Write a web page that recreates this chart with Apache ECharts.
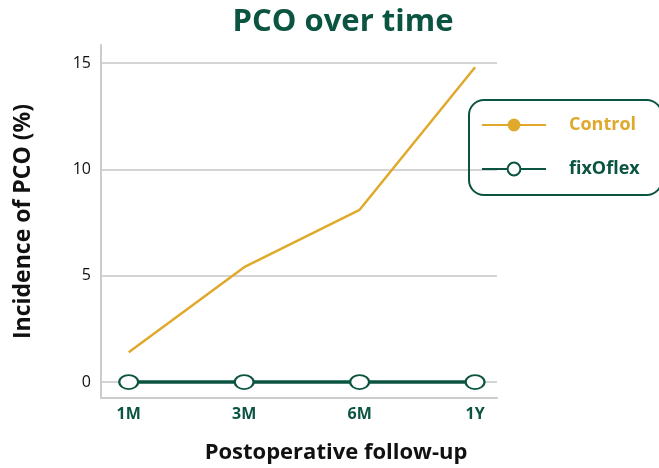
<!DOCTYPE html>
<html>
<head>
<meta charset="utf-8">
<script src="https://cdn.jsdelivr.net/npm/echarts@6/dist/echarts.min.js"></script>
<style>
  html, body { margin: 0; padding: 0; background: #fff; }
  #main { width: 659px; height: 468px; }
</style>
</head>
<body>
<div id="main"></div>
<script>
var categories = ['1M', '3M', '6M', '1Y'];
var controlData = [1.4, 5.4, 8.1, 14.8];
var fixoflexData = [0, 0, 0, 0];
var yTicks = [0, 5, 10, 15];

var green = '#0b5441';
var gold = '#e0a92b';
var font = 'Open Sans';

function pairs(arr) {
    return arr.map(function (v, i) { return [i, v]; });
}

var myChart = echarts.init(document.getElementById('main'));
var option = {
    title: {
        text: 'PCO over time',
        left: 338,
        textAlign: 'center',
        top: 2,
        textStyle: { color: green, fontSize: 31, fontWeight: 'bold', fontFamily: font }
    },
    legend: {
        orient: 'vertical',
        left: 469,
        top: 100,
        padding: [16, 22, 17, 12],
        itemGap: 26,
        itemWidth: 64,
        itemHeight: 16,
        borderColor: green,
        borderWidth: 2,
        borderRadius: 15,
        data: [
            { name: 'Control', textStyle: { color: gold } },
            { name: 'fixOflex', textStyle: { color: green } }
        ],
        textStyle: { fontSize: 18, fontWeight: 'bold', fontFamily: font, padding: [0, 0, 0, 18] }
    },
    grid: { left: 101, right: 162, top: 45, bottom: 70, outerBoundsMode: 'none' },
    xAxis: {
        type: 'value',
        min: -0.24,
        max: 3.19,
        name: 'Postoperative follow-up',
        nameLocation: 'middle',
        nameGap: 44,
        nameTextStyle: { color: '#111', fontSize: 22, fontWeight: 'bold', fontFamily: font, padding: [0, 0, 0, 74] },
        axisLine: { show: true, onZero: false, lineStyle: { color: '#cccccc', width: 2 } },
        axisTick: { show: false, customValues: [0, 1, 2, 3] },
        splitLine: { show: false },
        axisLabel: {
            customValues: [0, 1, 2, 3],
            formatter: function (v) { return categories[Math.round(v)]; },
            color: green, fontSize: 16, fontWeight: 'bold', fontFamily: font, margin: 8
        }
    },
    yAxis: {
        type: 'value',
        min: -0.75,
        max: 15.85,
        name: 'Incidence of PCO (%)',
        nameLocation: 'middle',
        nameGap: 66,
        nameTextStyle: { color: '#111', fontSize: 23, fontWeight: 'bold', fontFamily: font },
        axisLine: { show: true, onZero: false, lineStyle: { color: '#cccccc', width: 2 } },
        axisTick: { show: false, customValues: yTicks },
        axisLabel: { customValues: yTicks, color: '#111', fontSize: 16, fontFamily: font, margin: 10 },
        splitLine: { show: true, lineStyle: { color: '#d4d4d4', width: 2 } }
    },
    series: [
        {
            name: 'Control',
            type: 'line',
            data: pairs(controlData),
            symbol: 'circle',
            symbolSize: 15,
            showSymbol: false,
            itemStyle: { color: gold },
            lineStyle: { color: gold, width: 2.5 },
            z: 3
        },
        {
            name: 'fixOflex',
            type: 'line',
            data: pairs(fixoflexData),
            symbol: 'emptyCircle',
            symbolSize: [19, 14],
            itemStyle: { color: green, borderWidth: 2.5 },
            lineStyle: { color: green, width: 3.5 },
            z: 4
        }
    ]
};
myChart.setOption(option);
</script>
</body>
</html>
